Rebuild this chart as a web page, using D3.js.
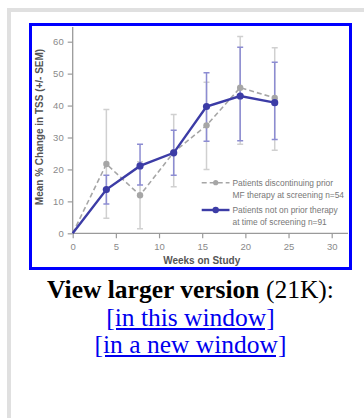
<!DOCTYPE html>
<html>
<head>
<meta charset="utf-8">
<script src="https://cdn.jsdelivr.net/npm/d3@7"></script>
<style>
  body { margin: 0; background: #fff; width: 364px; height: 418px; overflow: hidden; position: relative; }
  #chart { position: absolute; left: 0; top: 0; }
  #caption {
    position: absolute; left: 30px; width: 321px; top: 276.2px;
    text-align: center; font-family: "Liberation Serif", "Times New Roman", serif;
    font-size: 25.5px; line-height: 27.5px; color: #000; white-space: nowrap;
  }
  #caption a { color: #0000ee; }
</style>
</head>
<body>
<div id="chart"></div>
<div id="caption">
  <b>View larger version</b> (21K):<br>
  <a href="#">[in this window]</a><br>
  <a href="#">[in a new window]</a>
</div>
<script>
// weeks on study, shared by both groups
const weeks = [0, 3.9, 7.8, 11.7, 15.5, 19.4, 23.4];

// patients discontinuing prior MF therapy (n=54)
const priorMean  = [0, 21.7, 11.9, 25.4, 33.8, 45.6, 42.4];
const priorUpper = [null, 38.8, 22.4, 37.2, 47.3, 61.6, 58.1];
const priorLower = [null, 4.7, 1.4, 14.6, 20.0, 27.9, 26.0];

// patients not on prior therapy (n=91)
const naiveMean  = [0, 13.7, 21.1, 25.2, 39.7, 43.0, 40.9];
const naiveUpper = [null, 18.2, 27.9, 32.3, 50.3, 58.3, 53.6];
const naiveLower = [null, 9.2, 15.1, 18.2, 28.8, 29.0, 29.4];

const xTicks = [0, 5, 10, 15, 20, 25, 30];
const yTicks = [0, 10, 20, 30, 40, 50, 60];
const legendLabels = [
  ["Patients discontinuing prior", "MF therapy at screening n=54"],
  ["Patients not on prior therapy", "at time of screening n=91"]
];

const width = 364, height = 418;
const blue = "#3c3ca6", blueErr = "#8c8cd2";
const grey = "#a6a6a6", greyErr = "#d0d0d0";

const svg = d3.select("#chart").append("svg")
  .attr("width", width)
  .attr("height", height)
  .style("font-family", "'Liberation Sans', Arial, sans-serif");

// page frame strips
svg.append("rect").attr("x", 7).attr("y", 8).attr("width", 357).attr("height", 4).attr("fill", "#e0e0e0");
svg.append("rect").attr("x", 7).attr("y", 8).attr("width", 4).attr("height", 410).attr("fill", "#e0e0e0");

// blue image border
svg.append("rect")
  .attr("x", 30.5).attr("y", 24.5).attr("width", 320).attr("height", 244)
  .attr("fill", "#fff").attr("stroke", "#0000ff").attr("stroke-width", 3);

const x = d3.scaleLinear().domain([0, 30]).range([72.7, 331.7]);
const y = d3.scaleLinear().domain([0, 60]).range([233.3, 41.7]);

const xAxis = svg.append("g")
  .attr("transform", `translate(0,${y(0)})`)
  .call(d3.axisBottom(x).tickValues(xTicks).tickSize(5).tickPadding(5).tickSizeOuter(0));
xAxis.select(".domain").attr("d", `M${x(0)},0H348`);

const yAxis = svg.append("g")
  .attr("transform", `translate(${x(0)},0)`)
  .call(d3.axisLeft(y).tickValues(yTicks).tickSize(5).tickPadding(4).tickSizeOuter(0));
yAxis.select(".domain").attr("d", `M0,27V${y(0)}`);

svg.selectAll(".domain").attr("stroke", "#9a9a9a").attr("stroke-width", 1.3);
svg.selectAll(".tick line").attr("stroke", "#9a9a9a").attr("stroke-width", 1.2);
svg.selectAll(".tick text").attr("fill", "#8a8a8a").attr("font-size", 9.5);

svg.append("text")
  .attr("x", 201.7).attr("y", 263.5)
  .attr("text-anchor", "middle")
  .attr("font-size", 10).attr("font-weight", "bold").attr("fill", "#555")
  .text("Weeks on Study");

svg.append("text")
  .attr("transform", "translate(43,127) rotate(-90)")
  .attr("text-anchor", "middle")
  .attr("font-size", 10).attr("font-weight", "bold").attr("fill", "#555")
  .text("Mean % Change in TSS (+/- SEM)");

function errorBars(lower, upper, color) {
  const idx = weeks.map((w, i) => i).filter(i => upper[i] != null);
  const g = svg.append("g").attr("stroke", color).attr("stroke-width", 1.5).attr("fill", "none");
  g.selectAll("path").data(idx).enter().append("path")
    .attr("d", i => `M${x(weeks[i])},${y(lower[i])}V${y(upper[i])}` +
      `M${x(weeks[i]) - 3},${y(upper[i])}h6M${x(weeks[i]) - 3},${y(lower[i])}h6`);
}

function series(mean, color, lineWidth, dash, r) {
  const line = d3.line().x((d, i) => x(weeks[i])).y(d => y(d));
  svg.append("path")
    .datum(mean)
    .attr("d", line)
    .attr("fill", "none")
    .attr("stroke", color)
    .attr("stroke-width", lineWidth)
    .attr("stroke-dasharray", dash);
  svg.append("g").selectAll("circle")
    .data(mean.slice(1))
    .enter().append("circle")
    .attr("cx", (d, i) => x(weeks[i + 1]))
    .attr("cy", d => y(d))
    .attr("r", r)
    .attr("fill", color);
}

errorBars(priorLower, priorUpper, greyErr);
errorBars(naiveLower, naiveUpper, blueErr);
series(priorMean, grey, 1.6, "5,3", 3.2);
series(naiveMean, blue, 2.4, null, 3.6);

// legend
const legend = svg.append("g").attr("font-size", 8.4).attr("fill", "#777");
const legendRows = [
  { y: 182.7, color: grey, width: 1.6, dash: "5,3", r: 2.6 },
  { y: 210, color: blue, width: 2.4, dash: null, r: 3.2 }
];
legendRows.forEach((row, k) => {
  legend.append("line")
    .attr("x1", 201.7).attr("x2", 229.5).attr("y1", row.y).attr("y2", row.y)
    .attr("stroke", row.color).attr("stroke-width", row.width).attr("stroke-dasharray", row.dash);
  legend.append("circle").attr("cx", 215.7).attr("cy", row.y).attr("r", row.r).attr("fill", row.color);
  legend.selectAll(null).data(legendLabels[k]).enter().append("text")
    .attr("x", 232.5)
    .attr("y", (d, j) => row.y + 3 + j * 11.8)
    .text(d => d);
});
</script>
</body>
</html>
